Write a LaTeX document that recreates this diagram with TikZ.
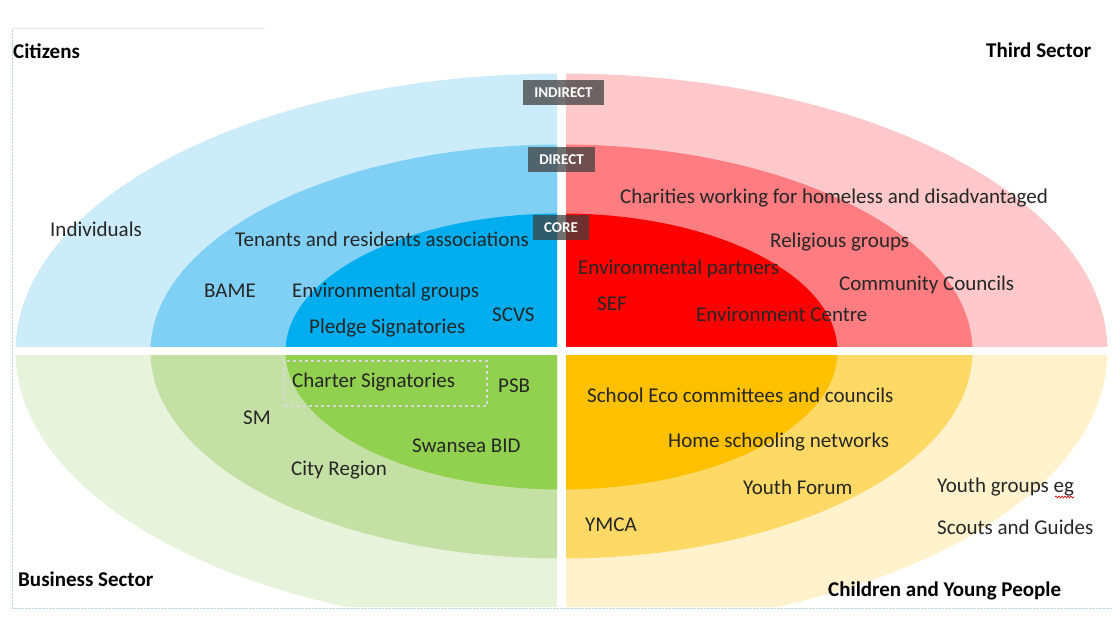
\documentclass[tikz,border=0pt]{standalone}
\usepackage{fontspec}
\setmainfont{Carlito}
\usetikzlibrary{decorations.pathmorphing}

\begin{document}
\begin{tikzpicture}[x=1pt,y=1pt,
		lbl/.style={anchor=base west,inner sep=0pt,text=black!85,font=\fontsize{21}{24}\selectfont},
		sector/.style={lbl,text=black,font=\fontsize{21}{24}\selectfont\bfseries},
		ringtag/.style={fill=black!75,fill opacity=.75,text opacity=1,text=white,inner xsep=11pt,inner ysep=0pt,minimum height=25pt,font=\fontsize{15}{18}\selectfont\bfseries}]
				\definecolor{blueA}{RGB}{204,236,250}
				\definecolor{blueB}{RGB}{128,208,245}
				\definecolor{blueC}{RGB}{0,174,239}
				\definecolor{redA}{RGB}{255,200,202}
				\definecolor{redB}{RGB}{255,124,128}
				\definecolor{redC}{RGB}{255,0,0}
				\definecolor{greenA}{RGB}{232,243,220}
				\definecolor{greenB}{RGB}{197,224,165}
				\definecolor{greenC}{RGB}{146,208,80}
				\definecolor{orangeA}{RGB}{255,242,204}
				\definecolor{orangeB}{RGB}{255,217,102}
				\definecolor{orangeC}{RGB}{255,192,0}
				\useasboundingbox (0,0) rectangle (1112,617);
				% frame
				\draw[blueA!80!gray,densely dotted] (12,587) -- (12,9) -- (1112,9);
				\draw[black!10] (12,589) -- (265,589);
				% quadrants: clip box, then the three rings
				\foreach \qx/\qy/\qw/\qh/\ca/\cb/\cc in {0/270/557/347/blueA/blueB/blueC,566/270/546/347/redA/redB/redC,0/10/557/251/greenA/greenB/greenC,566/10/546/251/orangeA/orangeB/orangeC} {
					\begin{scope}
						\clip (\qx,\qy) rectangle ++(\qw,\qh);
						\fill[\ca] (561.5,265.5) ellipse [x radius=546, y radius=278];
						\fill[\cb] (561.5,265.5) ellipse [x radius=411, y radius=207];
						\fill[\cc] (561.5,265.5) ellipse [x radius=276, y radius=138];
					\end{scope}
				}
				% ring tags
				\node[ringtag] (indirect) at (563.5,524.5) {INDIRECT};
				\node[ringtag] (direct) at (561.5,457) {DIRECT};
				\node[ringtag] (core) at (561,389.5) {CORE};
				% sectors
				\node[sector] (citizens) at (13,558) {Citizens};
				\node[sector] (third) at (986,559) {Third Sector};
				\node[sector] (business) at (18,30) {Business Sector};
				\node[sector] (cyp) at (828,20) {Children and Young People};
				% citizens
				\node[lbl] (indiv) at (50,380) {Individuals};
				\node[lbl] (tenants) at (235,370) {Tenants and residents associations};
				\node[lbl] (bame) at (204,319) {BAME};
				\node[lbl] (envgroups) at (292,319) {Environmental groups};
				\node[lbl] (pledge) at (309,283) {Pledge Signatories};
				\node[lbl] (scvs) at (492,295) {SCVS};
				% third sector
				\node[lbl] (charities) at (620,413) {Charities working for homeless and disadvantaged};
				\node[lbl] (religious) at (770,369) {Religious groups};
				\node[lbl] (envpartners) at (578,342) {Environmental partners};
				\node[lbl] (councils) at (839,326) {Community Councils};
				\node[lbl] (sef) at (597,306) {SEF};
				\node[lbl] (envcentre) at (696,295) {Environment Centre};
				% business
				\draw[white!85!black,dashed,line width=1.2pt] (284,211) rectangle (487,256);
				\node[lbl] (charter) at (292,229) {Charter Signatories};
				\node[lbl] (psb) at (498,224) {PSB};
				\node[lbl] (sm) at (243,192) {SM};
				\node[lbl] (bid) at (412,164) {Swansea BID};
				\node[lbl] (cityregion) at (291,141) {City Region};
				% children and young people
				\node[lbl] (schooleco) at (587,214) {School Eco committees and councils};
				\node[lbl] (homeschool) at (668,169) {Home schooling networks};
				\node[lbl] (youthforum) at (743,122) {Youth Forum};
				\node[lbl] (youthgroups) at (937,124) {Youth groups eg};
				\node[lbl] (scouts) at (937,82) {Scouts and Guides};
				\node[lbl] (ymca) at (585,85) {YMCA};
				\draw[red!80!black,line width=.6pt,decorate,decoration={zigzag,amplitude=1pt,segment length=3pt}]
					([xshift=-19pt,yshift=-4pt]youthgroups.base east) -- ([yshift=-4pt]youthgroups.base east);
			\end{tikzpicture}
\end{document}
